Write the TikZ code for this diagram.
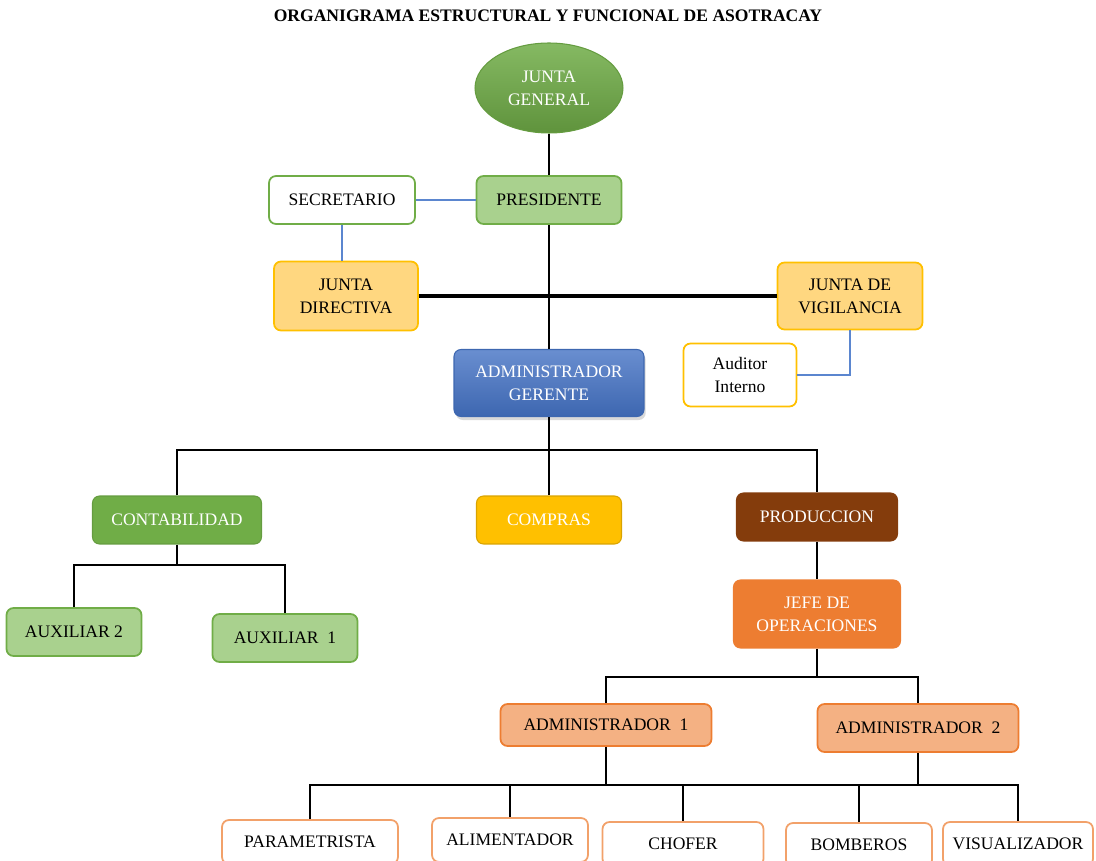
\documentclass[tikz,border=0pt]{standalone}
\usepackage{fontspec}
\setmainfont{Liberation Serif}
\usepackage{tikz}
\usetikzlibrary{calc,positioning,shapes,shapes.geometric,shadows}

\definecolor{verdeosc}{HTML}{70AD47}
\definecolor{verdecl}{HTML}{A9D18E}
\definecolor{oro}{HTML}{FFC000}
\definecolor{orocl}{HTML}{FFD780}
\definecolor{azul}{HTML}{4472C4}
\definecolor{azullin}{HTML}{5B86CF}
\definecolor{cafe}{HTML}{843C0C}
\definecolor{naranja}{HTML}{ED7D31}
\definecolor{naranjacl}{HTML}{F4B183}

\begin{document}
\begin{tikzpicture}[x=0.02cm, y=-0.02cm,
  caja/.style={draw, rounded corners=4pt, line width=1pt, align=center, inner sep=2pt,
    minimum height=0.96cm, font=\fontsize{10}{13}\selectfont},
  linea/.style={line width=1pt},
  lineaz/.style={line width=1pt, azullin},
  gruesa/.style={line width=2.4pt}]
\useasboundingbox (0,0) rectangle (1096,861);
\clip (0,0) rectangle (1096,861);

\node[font=\bfseries\fontsize{10}{12}\selectfont] (T) at (548,16) {ORGANIGRAMA ESTRUCTURAL Y FUNCIONAL DE ASOTRACAY};

\node[ellipse, draw=verdeosc!90!black, line width=0.6pt, top color=verdeosc!85!white, bottom color=verdeosc!85!black,
  text=white, minimum width=2.96cm, minimum height=1.8cm, align=center, font=\fontsize{10}{13}\selectfont] (JG) at (549,88) {JUNTA\\GENERAL};
\node[caja, draw=verdeosc, fill=verdecl, minimum width=2.9cm] (P) at (549,200) {PRESIDENTE};
\node[caja, draw=verdeosc, fill=white, minimum width=2.92cm] (S) at (342,200) {SECRETARIO};
\node[caja, draw=oro, fill=orocl, minimum width=2.88cm, minimum height=1.38cm] (JD) at (346,296) {JUNTA\\DIRECTIVA};
\node[caja, draw=oro, fill=orocl, minimum width=2.9cm, minimum height=1.34cm] (JV) at (850,296) {JUNTA DE\\VIGILANCIA};
\node[caja, draw=oro, fill=white, minimum width=2.26cm, minimum height=1.26cm] (AI) at (740,375) {Auditor\\Interno};
\node[caja, draw=azul!90!black, line width=0.6pt, top color=azul!80!white, bottom color=azul!90!black, text=white,
  minimum width=3.8cm, minimum height=1.34cm, drop shadow={opacity=0.3, shadow xshift=1pt, shadow yshift=-2pt}] (AG) at (549,383) {ADMINISTRADOR\\GERENTE};

\node[caja, draw=verdeosc!90!black, line width=0.6pt, fill=verdeosc, text=white, minimum width=3.38cm] (CO) at (177,520) {CONTABILIDAD};
\node[caja, draw=oro!85!black, line width=0.6pt, fill=oro, text=white, minimum width=2.9cm] (CP) at (549,520) {COMPRAS};
\node[caja, draw=cafe, line width=0.6pt, fill=cafe, text=white, minimum width=3.22cm] (PR) at (817,517) {PRODUCCION};
\node[caja, draw=verdeosc, fill=verdecl, minimum width=2.7cm] (A2) at (74,632) {AUXILIAR 2};
\node[caja, draw=verdeosc, fill=verdecl, minimum width=2.9cm] (A1) at (285,638) {AUXILIAR\ \ 1};
\node[caja, draw=naranja, line width=0.6pt, fill=naranja, text=white, minimum width=3.34cm, minimum height=1.36cm] (JO) at (817,614) {JEFE DE\\OPERACIONES};

\node[caja, draw=naranja, fill=naranjacl, minimum width=4.22cm, minimum height=0.84cm] (AD1) at (606,725) {ADMINISTRADOR\ \ 1};
\node[caja, draw=naranja, fill=naranjacl, minimum width=4.02cm] (AD2) at (918,728) {ADMINISTRADOR\ \ 2};

\node[caja, draw=naranjacl!70!naranja, fill=white, minimum width=3.52cm, minimum height=0.88cm] (PA) at (310,842) {PARAMETRISTA};
\node[caja, draw=naranjacl!70!naranja, fill=white, minimum width=3.12cm, minimum height=0.88cm] (AL) at (510,840) {ALIMENTADOR};
\node[caja, draw=naranjacl!70!naranja, fill=white, minimum width=3.22cm, minimum height=0.88cm] (CH) at (683,844) {CHOFER};
\node[caja, draw=naranjacl!70!naranja, fill=white, minimum width=2.92cm, minimum height=0.88cm] (BO) at (859,845) {BOMBEROS};
\node[caja, draw=naranjacl!70!naranja, fill=white, minimum width=3cm, minimum height=0.88cm] (VI) at (1018,844) {VISUALIZADOR};

% puntos de union
\coordinate (j1) at (549,450);
\coordinate (j2) at (177,565);
\coordinate (j3) at (817,677);
\coordinate (j4) at (606,785);
\coordinate (j5) at (918,785);

\draw[linea] (JG) -- (P) ;
\draw[linea] (P) -- (AG) ;
\draw[lineaz] (S) -- (P) ;
\draw[lineaz] (S.south) -- (S.south |- JD.north) ;
\draw[gruesa] (JD) -- (JV) ;
\draw[lineaz] (JV.south) |- (AI.east) ;

\draw[linea] (AG) -- (CP) ;
\draw[linea] (CO.north) |- (j1) -| (PR.north) ;
\draw[linea] (CO) -- (j2) ;
\draw[linea] (A2.north) |- (j2) -| (A1.north) ;
\draw[linea] (PR) -- (JO) ;
\draw[linea] (JO) -- (j3) ;
\draw[linea] (AD1.north) |- (j3) -| (AD2.north) ;
\draw[linea] (AD1) -- (j4) ;
\draw[linea] (AD2) -- (j5) ;
\draw[linea] (PA.north) |- (j4) -- (j5) -| (VI.north) ;
\draw[linea] (AL.north) -- (AL.north |- j4) ;
\draw[linea] (CH.north) -- (CH.north |- j4) ;
\draw[linea] (BO.north) -- (BO.north |- j4) ;
\end{tikzpicture}
\end{document}
